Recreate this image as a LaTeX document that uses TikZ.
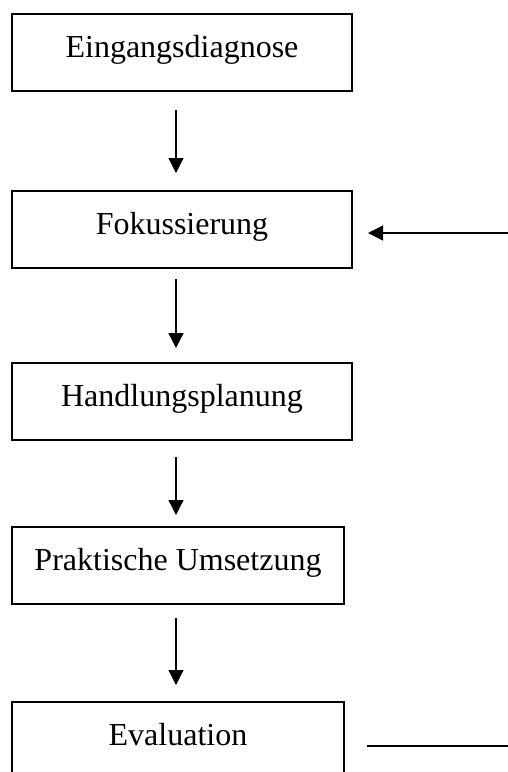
\documentclass[tikz,border=0pt]{standalone}
\usepackage{fontspec}
\setmainfont{Liberation Serif}
\usepackage{tikz}
\usetikzlibrary{arrows.meta,calc}

\begin{document}
\begin{tikzpicture}[x=0.5pt,y=-0.5pt,
      stage/.style={draw,line width=1pt,minimum width=170pt,minimum height=38.5pt,
        inner sep=0pt,text height=11pt,text depth=6.5pt,
        font=\fontsize{16pt}{19pt}\selectfont},
      trans/.style={-{Triangle[length=7.5pt,width=7.5pt]},line width=0.6pt},
      ]
      \useasboundingbox (0,0) rectangle (508,772);
      \clip (0,0) rectangle (508,772);
      % stages
      \node (diag) at (182,52.5) [stage] {Eingangsdiagnose};
      \node (fok) at (182,229.5) [stage] {Fokussierung};
      \node (plan) at (182,401.5) [stage] {Handlungsplanung};
      \node (ums) at (178,565.5) [stage,minimum width=166pt] {Praktische Umsetzung};
      \node (eval) at (178,740.5) [stage,minimum width=166pt] {Evaluation};

      \coordinate (ax) at (176,0);
      \coordinate (back) at (508,233);
      \coordinate (out) at (508,746);

      \draw [trans,shorten <=9pt,shorten >=8.5pt] (ax |- diag.south) to (ax |- fok.north);
      \draw [trans,shorten <=5pt,shorten >=7pt] (ax |- fok.south) to (ax |- plan.north);
      \draw [trans,shorten <=8pt,shorten >=5.5pt] (ax |- plan.south) to (ax |- ums.north);
      \draw [trans,shorten <=6.5pt,shorten >=8pt] (ax |- ums.south) to (ax |- eval.north);
      % loop back
      \draw [trans,shorten >=7.5pt] (back) to (fok.east |- back);
      \draw [line width=0.6pt,shorten <=11pt] (eval.east |- out) to (out);
    \end{tikzpicture}
\end{document}
